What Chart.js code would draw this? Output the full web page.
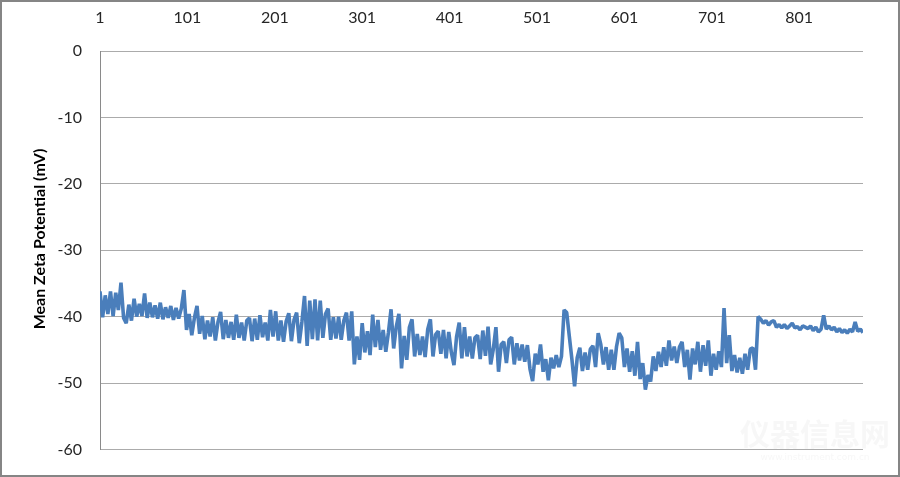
<!DOCTYPE html>
<html>
<head>
<meta charset="utf-8">
<script src="https://cdn.jsdelivr.net/npm/chart.js@4.4.1/dist/chart.umd.min.js"></script>
<style>
    html, body { margin: 0; padding: 0; background: #fff; }
    #wrap { position: relative; width: 900px; height: 477px; }
    #frame { position: absolute; left: 0; top: 0; width: 900px; height: 477px; box-sizing: border-box; border: 2px solid #858585; pointer-events: none; }
    canvas { position: absolute; left: 0; top: 0; }
</style>
</head>
<body>
<div id="wrap">
    <canvas id="zetaChart" width="900" height="477"></canvas>
    <div id="frame"></div>
</div>
<script>
// measurement number of the first sample and spacing between plotted samples
const firstSample = 1;
const sampleStep = 3;
const lastSample = 874;

// top axis labels and left axis ticks
const xTickLabels = [1, 101, 201, 301, 401, 501, 601, 701, 801];
const yTicks = [0, -10, -20, -30, -40, -50, -60];

const zeta = [
    -36.2, -40.1, -36.8, -39.6, -36.2, -39.9, -36.4, -39.0, -34.9, -40.2,
    -41.0, -38.2, -40.6, -37.3, -40.0, -38.1, -39.9, -36.5, -40.2, -37.9,
    -40.1, -38.3, -40.3, -37.9, -40.4, -38.6, -40.2, -38.4, -40.5, -38.7,
    -40.3, -38.8, -36.0, -42.0, -39.6, -42.8, -40.2, -38.4, -42.6, -39.9,
    -43.4, -40.6, -43.0, -40.1, -43.6, -40.8, -39.3, -43.4, -40.5, -43.2,
    -40.8, -43.5, -39.7, -43.2, -40.9, -43.6, -40.6, -40.2, -43.7, -40.3,
    -43.5, -39.8, -43.1, -40.9, -43.6, -39.0, -43.0, -39.2, -43.6, -40.6,
    -43.8, -40.7, -39.5, -43.7, -40.5, -39.4, -44.0, -40.8, -36.9, -44.4,
    -37.6, -43.4, -37.4, -43.6, -37.6, -43.2, -39.6, -38.8, -43.5, -40.1,
    -43.3, -40.0, -43.5, -40.6, -39.4, -43.6, -39.2, -47.2, -43.0, -46.5,
    -41.0, -45.4, -42.2, -45.8, -39.7, -44.6, -40.5, -45.0, -42.0, -45.3,
    -42.4, -38.9, -44.8, -41.5, -39.6, -47.8, -42.9, -46.5, -41.6, -40.4,
    -46.0, -42.6, -45.8, -43.0, -46.1, -41.9, -40.4, -46.0, -42.7, -42.2,
    -45.6, -42.0, -46.3, -42.3, -45.4, -47.3, -43.0, -40.9, -46.3, -41.6,
    -46.0, -43.0, -46.3, -43.2, -42.8, -46.4, -42.1, -45.9, -41.5, -47.2,
    -44.9, -41.6, -48.3, -44.2, -43.8, -47.0, -43.5, -43.1, -47.2, -44.0,
    -46.6, -44.2, -46.8, -44.3, -47.9, -49.7, -45.6, -47.2, -44.2, -48.3,
    -46.4, -49.6, -46.2, -47.8, -45.8, -47.6, -46.0, -39.0, -39.4, -43.0,
    -46.5, -50.5, -46.2, -44.7, -48.2, -45.4, -48.0, -44.9, -44.4, -47.6,
    -42.5, -44.2, -47.2, -44.6, -48.0, -45.0, -48.0, -44.5, -42.5, -43.2,
    -47.6, -44.8, -48.3, -45.2, -48.9, -43.8, -49.4, -47.0, -51.0, -48.8,
    -49.8, -46.0, -48.2, -45.3, -47.6, -44.6, -47.4, -43.6, -46.6, -44.5,
    -47.0, -44.6, -43.8, -47.6, -45.0, -49.5, -44.8, -47.2, -43.8, -48.3,
    -44.3, -47.4, -43.6, -48.9, -45.6, -48.0, -45.2, -47.6, -38.7, -47.0,
    -42.8, -48.2, -45.8, -48.4, -46.2, -48.6, -45.6, -48.0, -44.9, -44.7,
    -48.0, -40.0, -40.4, -41.0, -40.6, -41.3, -40.8, -40.6, -41.6, -41.2,
    -41.7, -41.2, -41.8, -41.4, -41.0, -41.7, -41.5, -42.0, -41.4, -41.6,
    -41.8, -41.4, -42.1, -41.6, -42.3, -41.9, -39.8, -41.9, -41.4, -42.0,
    -41.6, -42.3, -41.8, -42.4, -42.0, -42.5, -41.9, -42.3, -40.8, -42.2,
    -41.9, -42.4
];

const points = zeta.map((v, i) => ({ x: firstSample + i * sampleStep, y: v }));

// rotated y axis title, placed where the original has it
const yTitlePlugin = {
    id: 'yTitle',
    afterDraw(chart) {
        const ctx = chart.ctx;
        ctx.save();
        ctx.translate(40, 239);
        ctx.rotate(-Math.PI / 2);
        ctx.font = 'bold 16px Lato';
        ctx.fillStyle = '#000';
        ctx.textAlign = 'center';
        ctx.textBaseline = 'middle';
        ctx.fillText('Mean Zeta Potential (mV)', 0, 0);
        ctx.restore();

        // faint site watermark, bottom right
        ctx.save();
        ctx.font = 'bold 30px "Noto Sans CJK SC"';
        ctx.fillStyle = 'rgba(200, 200, 200, 0.14)';
        ctx.textAlign = 'center';
        ctx.fillText('仪器信息网', 815, 445);
        ctx.font = '9px "DejaVu Sans"';
        ctx.fillText('www.instrument.com.cn', 815, 460);
        ctx.restore();
    }
};

const ctx = document.getElementById('zetaChart').getContext('2d');
new Chart(ctx, {
    type: 'line',
    data: {
        datasets: [{
            label: 'Mean Zeta Potential',
            data: points,
            borderColor: '#4a7ebb',
            borderWidth: 3.6,
            borderJoinStyle: 'bevel',
            pointRadius: 0,
            tension: 0,
            fill: false
        }]
    },
    options: {
        responsive: false,
        animation: false,
        layout: {
            padding: { left: 0, right: 37, top: 0, bottom: 24 }
        },
        plugins: {
            legend: { display: false },
            tooltip: { enabled: false }
        },
        scales: {
            x: {
                type: 'linear',
                position: 'top',
                min: firstSample,
                max: lastSample,
                afterBuildTicks: scale => {
                    scale.ticks = xTickLabels.map(v => ({ value: v }));
                },
                afterFit: scale => { scale.height = 51; },
                grid: { display: false },
                border: { display: false },
                ticks: {
                    autoSkip: false,
                    maxRotation: 0,
                    padding: 16,
                    color: '#262626',
                    font: { family: 'Lato', size: 16 }
                }
            },
            y: {
                min: yTicks[yTicks.length - 1],
                max: yTicks[0],
                afterBuildTicks: scale => {
                    scale.ticks = yTicks.map(v => ({ value: v }));
                },
                afterFit: scale => { scale.width = 100; },
                grid: { color: '#ababab', lineWidth: 1, drawTicks: false },
                border: { color: '#8a8a8a', width: 1 },
                ticks: {
                    padding: 18,
                    color: '#262626',
                    font: { family: 'Lato', size: 16 }
                }
            }
        }
    },
    plugins: [yTitlePlugin]
});
</script>
</body>
</html>
